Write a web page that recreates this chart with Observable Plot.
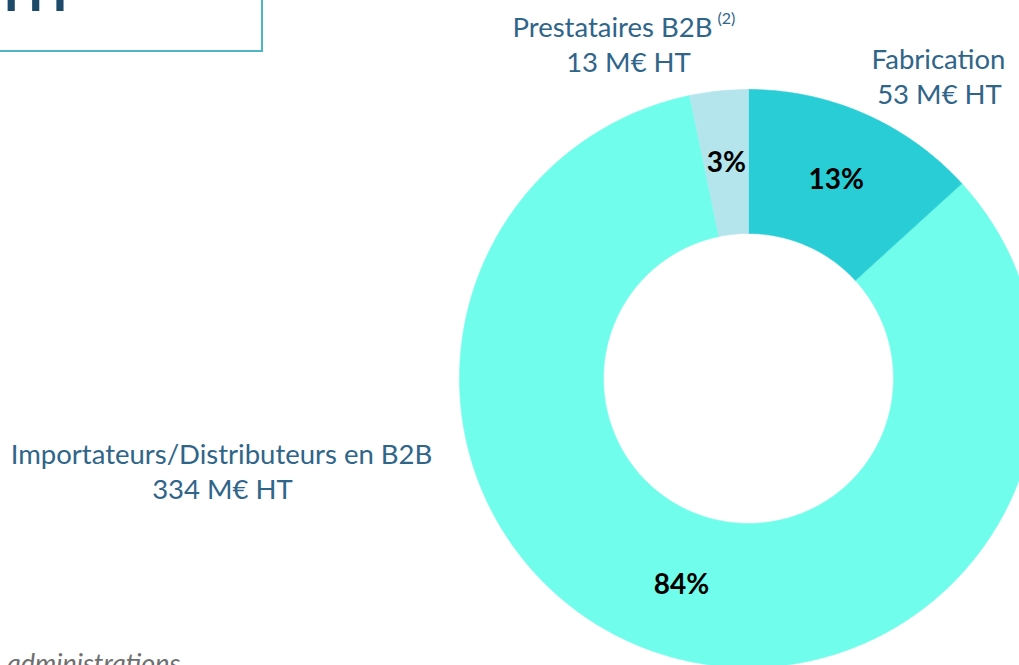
<!DOCTYPE html>
<html>
<head>
<meta charset="utf-8">
<script src="https://cdn.jsdelivr.net/npm/d3@7"></script>
<script src="https://cdn.jsdelivr.net/npm/@observablehq/plot@0.6"></script>
<style>
  html, body { margin: 0; padding: 0; background: #fff; overflow: hidden; }
  #wrap { position: relative; width: 1019px; height: 665px; overflow: hidden; }
  #box { position: absolute; left: -20px; top: -20px; width: 283px; height: 72px; box-sizing: border-box;
         border: 2px solid #4db6c6; overflow: hidden; }
  #boxtitle { position: absolute; left: 22px; top: -22px; font: bold 58px Lato, sans-serif; color: #1e4a6a;
              letter-spacing: 10px; line-height: 1; white-space: nowrap; }
  #note { position: absolute; left: 7px; top: 649px; font: italic 27px Lato, sans-serif; line-height: 1; color: #6f6f6f; white-space: nowrap; }
  #chart { position: absolute; left: 0; top: 0; }
</style>
</head>
<body>
<div id="wrap">
  <div id="box"><div id="boxtitle">lll</div></div>
  <div id="chart"></div>
  <div id="note">administrations</div>
</div>
<script>
// ---- data ----
const categories = ["Fabrication", "Importateurs/Distributeurs en B2B", "Prestataires B2B"];
const values = [53, 334, 13];                       // M€ HT
const amountLabels = ["53 M€ HT", "334 M€ HT", "13 M€ HT"];
const pctLabels = ["13%", "84%", "3%"];
const notes = ["", "", "(2)"];
const colors = ["#29cdd6", "#70fdeb", "#b4e5ec"];

// ---- layout (pixels) ----
const W = 1019, H = 665;
const ring = {cx: 748, cy: 378, R: 289, r: 145};
const nameAnchor = [
  {x: 938, y: 68, anchor: "middle"},
  {x: 221, y: 463, anchor: "middle"},
  {x: 712, y: 36, anchor: "end"}
];
const amountAnchor = [
  {x: 939, y: 103},
  {x: 222, y: 498},
  {x: 628, y: 71}
];
const noteOffset = {dx: 5, dy: -13};

// ---- geometry from data ----
const pie = d3.pie().sort(null).value(d => d.value).startAngle(0).endAngle(2 * Math.PI);
const rows = categories.map((c, i) => ({key: c, value: values[i], i}));
const arcs = pie(rows);

function polar(a, rad) {
  return {x: ring.cx + rad * Math.sin(a), y: ring.cy - rad * Math.cos(a)};
}
const ringPoints = [];
for (const a of arcs) {
  const n = Math.max(8, Math.ceil((a.endAngle - a.startAngle) / (Math.PI / 360)));
  const outer = d3.range(n + 1).map(k => a.startAngle + (a.endAngle - a.startAngle) * k / n);
  for (const t of outer) ringPoints.push({key: a.data.key, ...polar(t, ring.R)});
  for (const t of outer.slice().reverse()) ringPoints.push({key: a.data.key, ...polar(t, ring.r)});
}
const centroids = arcs.map(a => ({
  key: a.data.key,
  label: pctLabels[a.data.i],
  ...polar((a.startAngle + a.endAngle) / 2, (ring.R + ring.r) / 2)
}));

const names = categories.map((c, i) => ({text: c, ...nameAnchor[i]}));
const amounts = amountLabels.map((t, i) => ({text: t, ...amountAnchor[i]}));
const noteRows = notes.map((t, i) => ({text: t, x: nameAnchor[i].x, y: nameAnchor[i].y})).filter(d => d.text);

const labelColor = "#2f6589";
const font = "Lato, 'Open Sans', sans-serif";
const labelSize = 27.5;

const chart = Plot.plot({
  width: W,
  height: H,
  margin: 0,
  style: {background: "transparent", fontFamily: font, overflow: "hidden"},
  x: {domain: [0, W], range: [0, W], axis: null},
  y: {domain: [0, H], range: [0, H], axis: null},
  color: {domain: categories, range: colors},
  marks: [
    Plot.line(ringPoints, {x: "x", y: "y", z: "key", fill: "key", stroke: "key", strokeWidth: 0.6, curve: "linear-closed"}),
    Plot.text(centroids, {x: "x", y: "y", text: "label", fill: "#000", fontWeight: "bold", fontSize: 28, lineAnchor: "middle", textAnchor: "middle"}),
    Plot.text(names.filter(d => d.anchor === "middle"), {x: "x", y: "y", text: "text", textAnchor: "middle", fill: labelColor, fontSize: labelSize, lineAnchor: "bottom"}),
    Plot.text(names.filter(d => d.anchor === "end"), {x: "x", y: "y", text: "text", textAnchor: "end", fill: labelColor, fontSize: labelSize, lineAnchor: "bottom"}),
    Plot.text(amounts, {x: "x", y: "y", text: "text", fill: labelColor, fontSize: labelSize, lineAnchor: "bottom", textAnchor: "middle"}),
    Plot.text(noteRows, {x: "x", y: "y", text: "text", fill: labelColor, fontSize: 16, lineAnchor: "bottom", textAnchor: "start", dx: noteOffset.dx, dy: noteOffset.dy})
  ]
});
document.getElementById("chart").appendChild(chart);
</script>
</body>
</html>
